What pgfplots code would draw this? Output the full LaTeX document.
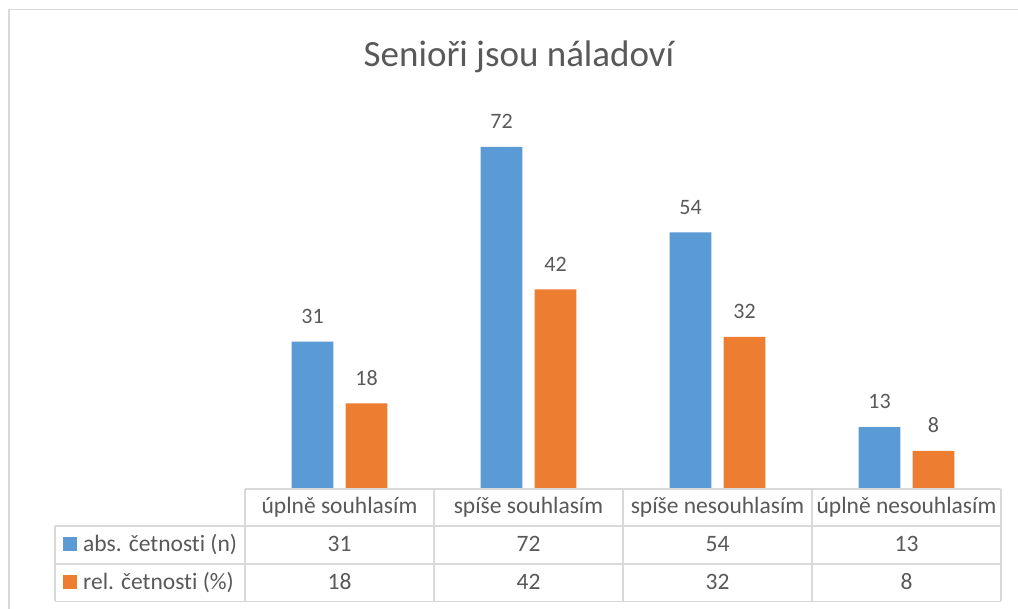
\documentclass[border=0pt]{standalone}
\usepackage{pgfplots}
\pgfplotsset{compat=1.18}
\usepackage{fontspec}
\setmainfont{Carlito}[Ligatures={TeX,NoCommon}]
\definecolor{cblue}{HTML}{5B9BD5}
\definecolor{corange}{HTML}{ED7D31}
\definecolor{ctext}{HTML}{595959}
\definecolor{cgrid}{HTML}{D9D9D9}
\begin{document}
\begin{tikzpicture}[x=1pt,y=1pt]
\useasboundingbox (0,0) rectangle (1018,609);
\fill[white] (0,0) rectangle (1018,609);
\draw[cgrid, line width=1.6pt] (9,-2) -- (9,599.5) -- (1020,599.5);
\begin{axis}[
  at={(245pt,120pt)}, anchor=south west,
  scale only axis, width=756pt, height=380pt,
  xmin=-0.5, xmax=3.5, ymin=0, ymax=80,
  hide axis, clip=false,
  /pgf/number format/assume math mode=true,
  ybar=12.3pt, bar width=41.7pt,
  nodes near coords,
  every node near coord/.append style={font=\fontsize{22}{26}\selectfont, text=ctext, anchor=south, inner sep=0pt, yshift=18pt},
]
\addplot[fill=cblue, draw=none] coordinates {(0,31) (1,72) (2,54) (3,13)};
\addplot[fill=corange, draw=none] coordinates {(0,18) (1,42) (2,32) (3,8)};
\end{axis}
% data table grid
\begin{scope}[cgrid, line width=1.4pt]
\draw (245,120) -- (1001,120);
\draw (55,83) -- (1001,83);
\draw (55,45) -- (1001,45);
\draw (55,7.5) -- (1001,7.5);
\draw (55,7.5) -- (55,83);
\foreach \x in {245,434,623,812,1001} \draw (\x,7.5) -- (\x,120);
\end{scope}
\begin{scope}[every node/.style={text=ctext, font=\fontsize{23.5}{28}\selectfont, inner sep=0pt, anchor=base}]
\node at (339.5,95) {úplně souhlasím};
\node at (528.5,95) {spíše souhlasím};
\node at (717.5,95) {spíše nesouhlasím};
\node at (906.5,95) {úplně nesouhlasím};
\node at (339.5,57) {31};
\node at (528.5,57) {72};
\node at (717.5,57) {54};
\node at (906.5,57) {13};
\node at (339.5,19) {18};
\node at (528.5,19) {42};
\node at (717.5,19) {32};
\node at (906.5,19) {8};
\node[anchor=base west] at (83,57) {abs. četnosti (n)};
\node[anchor=base west] at (83,19) {rel. četnosti (\%)};
\end{scope}
\fill[cblue] (63,58) rectangle (77,72);
\fill[corange] (63,20) rectangle (77,34);
\node[text=ctext, font=\fontsize{37}{44}\selectfont, inner sep=0pt, anchor=base] at (519,542) {Senioři jsou náladoví};
\end{tikzpicture}
\end{document}
